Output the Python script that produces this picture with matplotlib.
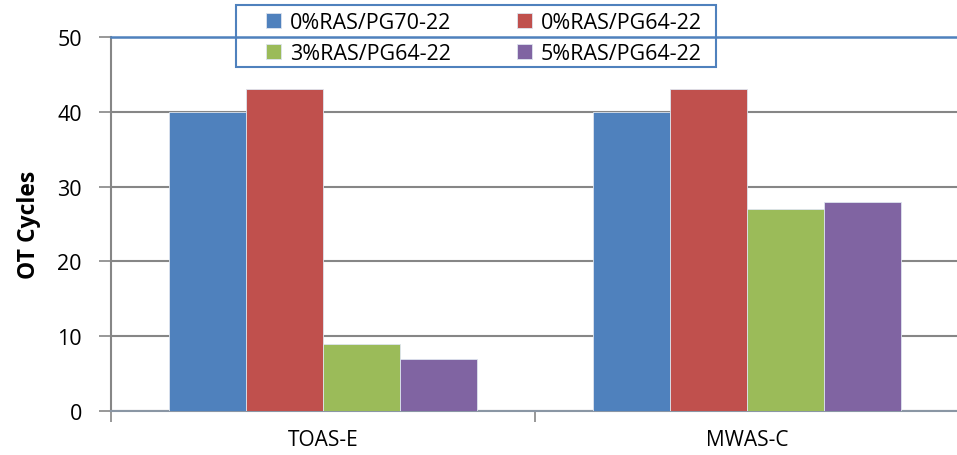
import numpy as np
import matplotlib.pyplot as plt
from matplotlib.patches import Rectangle

categories = ["TOAS-E", "MWAS-C"]
series_names = ["0%RAS/PG70-22", "0%RAS/PG64-22", "3%RAS/PG64-22", "5%RAS/PG64-22"]
ras0_pg70 = [40, 40]
ras0_pg64 = [43, 43]
ras3_pg64 = [9, 27]
ras5_pg64 = [7, 28]
colors = ["#4F81BD", "#C0504D", "#9BBB59", "#8064A2"]

plt.rcParams['font.family'] = ['Open Sans', 'DejaVu Sans']

fig = plt.figure(figsize=(9.57, 4.56), dpi=100)
ax = fig.add_axes([111 / 957, 1 - 412 / 456, 848 / 957, 374 / 456])

x = np.arange(len(categories))
w = 0.182
values = [ras0_pg70, ras0_pg64, ras3_pg64, ras5_pg64]
handles = []
for i, (vals, c) in enumerate(zip(values, colors)):
    b = ax.bar(x + (i - 1.5) * w, vals, w, color=c, edgecolor="#DDE4EE",
               linewidth=0.6, zorder=3, label=series_names[i])
    handles.append(b)

ax.set_xlim(-0.5, 1.5)
ax.set_ylim(0, 50)
ax.set_yticks(range(0, 51, 10))
ax.set_xticks(x)
ax.set_xticklabels(categories, fontsize=15)
ax.tick_params(axis="x", length=0, pad=13)
ax.tick_params(axis="y", labelsize=15.5, length=9, width=1.2, color="#868686", pad=12)
ax.set_xticks([-0.5, 0.5], minor=True)
ax.tick_params(axis="x", which="minor", length=8, width=1.2, color="#868686")

ax.yaxis.grid(True, color="#868686", linewidth=1.5, zorder=0)
for s in ["top", "right"]:
    ax.spines[s].set_visible(False)
ax.spines["left"].set_color("#868686")
ax.spines["left"].set_linewidth(1.5)
ax.spines["bottom"].set_color("#8A96A4")
ax.spines["bottom"].set_linewidth(1.5)
# top gridline at 50 drawn in blue
ax.axhline(50, color="#4F81BD", linewidth=1.8, zorder=4, clip_on=False)

ax.set_ylabel("OT Cycles", fontsize=16.5, fontweight="bold", labelpad=12)

# legend box (Excel style, transparent, crossed by the top line)
fig.add_artist(Rectangle((236 / 957, 1 - 68 / 456), 480 / 957, 62 / 456,
                         transform=fig.transFigure, fill=False,
                         edgecolor="#4F81BD", linewidth=1.5, zorder=10))
order = [0, 2, 1, 3]
leg = fig.legend([handles[k] for k in order], [series_names[k] for k in order],
                 ncol=2, loc="center left",
                 bbox_to_anchor=(266 / 957, 1 - 70 / 456, (702 - 266) / 957, 62 / 456),
                 mode="expand", fontsize=15.5, frameon=False,
                 handlelength=0.7, handleheight=0.7, handletextpad=0.4,
                 borderpad=0, labelspacing=0.45, borderaxespad=0)

fig.savefig("out.png", dpi=100)
